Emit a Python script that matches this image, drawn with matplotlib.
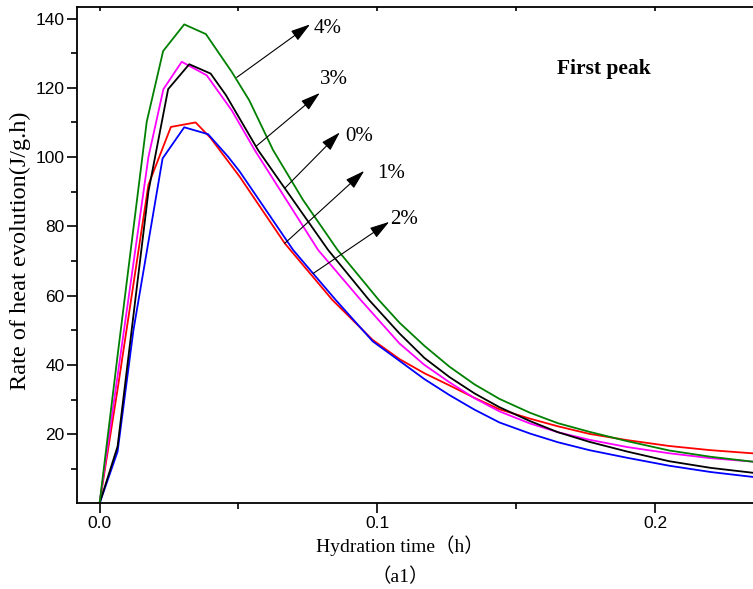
import matplotlib
matplotlib.use("Agg")
import matplotlib.pyplot as plt
from matplotlib.ticker import MultipleLocator

# hydration heat flow curves, first peak, for 0-4 % admixture
t_0 = [0, 0.0065, 0.0176, 0.0247, 0.0323, 0.040, 0.0455, 0.0571, 0.0667, 0.0823, 0.097,
       0.108, 0.117, 0.126, 0.135, 0.144, 0.155, 0.165, 0.1764, 0.19, 0.2052, 0.22, 0.235]
q_0 = [0, 16.5, 90, 119.6, 126.8, 124.1, 117.9, 102.0, 91.0, 73.2, 58.8,
       49.1, 42.0, 36.5, 31.8, 27.8, 23.8, 20.6, 17.8, 15.0, 12.2, 10.3, 8.9]

t_1 = [0, 0.0067, 0.0176, 0.0257, 0.0346, 0.040, 0.0505, 0.0667, 0.0838, 0.0984,
       0.108, 0.117, 0.126, 0.135, 0.144, 0.155, 0.165, 0.1764, 0.19, 0.2052, 0.22, 0.235]
q_1 = [0, 34, 92, 108.7, 110.0, 105.5, 94.3, 75.1, 58.8, 47.2,
       41.7, 37.6, 34.1, 30.5, 27.2, 24.5, 22.3, 20.1, 18.3, 16.6, 15.4, 14.5]

t_2 = [0, 0.0065, 0.0122, 0.0227, 0.0305, 0.0391, 0.0463, 0.0505, 0.0697, 0.0769, 0.085,
       0.0984, 0.108, 0.117, 0.126, 0.135, 0.144, 0.155, 0.165, 0.1764, 0.19, 0.2052, 0.22, 0.235]
q_2 = [0, 15, 50, 99.6, 108.6, 106.6, 100.1, 95.8, 73.2, 66.4, 58.8,
       46.8, 41.2, 35.9, 31.3, 27.1, 23.4, 20.2, 17.7, 15.4, 13.2, 10.9, 9.1, 7.7]

t_3 = [0, 0.0067, 0.0176, 0.023, 0.0296, 0.0386, 0.0476, 0.0559, 0.0787, 0.094,
       0.108, 0.117, 0.126, 0.135, 0.144, 0.155, 0.165, 0.1764, 0.19, 0.2052, 0.22, 0.235]
q_3 = [0, 38, 100, 119.6, 127.5, 123.6, 113.5, 102.0, 73.2, 58.8,
       46.2, 40.0, 35.0, 30.4, 26.6, 23.1, 20.6, 18.4, 16.3, 14.5, 13.1, 12.1]

t_4 = [0, 0.0067, 0.017, 0.0229, 0.0305, 0.0383, 0.0476, 0.0539, 0.0625, 0.0733, 0.0857,
       0.1005, 0.108, 0.117, 0.126, 0.135, 0.144, 0.155, 0.165, 0.1764, 0.19, 0.2052, 0.22, 0.235]
q_4 = [0, 44, 110.2, 130.6, 138.3, 135.5, 124.6, 116.4, 102.0, 87.6, 73.2,
       58.8, 52.2, 45.5, 39.5, 34.4, 30.2, 26.2, 23.2, 20.7, 18.0, 15.3, 13.5, 12.1]

labels = ['4%', '3%', '0%', '1%', '2%']
# arrow tail on the curve, arrow tip, text anchor
arrow_tail = [(0.0494, 123.0), (0.0565, 103.2), (0.0667, 91.0), (0.0667, 75.1), (0.0769, 66.4)]
arrow_tip = [(0.0758, 138.3), (0.0793, 118.5), (0.0865, 107.1), (0.0953, 96.0), (0.1043, 81.3)]
text_pos = [(0.0772, 137.0), (0.0794, 122.4), (0.0884, 106.0), (0.0998, 95.3), (0.1048, 82.1)]

serif = ['Liberation Serif', 'Noto Sans CJK SC']

fig = plt.figure(figsize=(7.53, 5.89), dpi=100)
ax = fig.add_axes([0.1023, 0.146, 0.8977, 0.842])

ax.plot(t_1, q_1, color='#ff0000', lw=1.3)
ax.plot(t_2, q_2, color='#0000ff', lw=1.3)
ax.plot(t_3, q_3, color='#ff00ff', lw=1.3)
ax.plot(t_0, q_0, color='black', lw=1.3)
ax.plot(t_4, q_4, color='#008000', lw=1.3)

for lab, tail, tip, pos in zip(labels, arrow_tail, arrow_tip, text_pos):
    ax.annotate('', xy=tip, xytext=tail,
                arrowprops=dict(arrowstyle='-|>,head_length=1.0,head_width=0.3',
                                color='black', lw=0.8, mutation_scale=12,
                                shrinkA=0, shrinkB=0))
    ax.text(pos[0], pos[1], lab, family=serif, fontsize=15, va='center', ha='left')

ax.text(0.1817, 125.4, 'First peak', family=serif, fontsize=15.5, fontweight='bold',
        ha='center', va='center')

ax.set_xlim(-0.0081, 0.2353)
ax.set_ylim(0.15, 143.3)
ax.xaxis.set_minor_locator(MultipleLocator(0.05))
ax.yaxis.set_minor_locator(MultipleLocator(10))
ax.set_xticks([0, 0.1, 0.2])
ax.set_xticklabels(['0.0', '0.1', '0.2'])
ax.set_yticks([20, 40, 60, 80, 100, 120, 140])

ax.tick_params(which='major', direction='out', length=7, width=1.2, labelsize=12.5, pad=2)
ax.tick_params(which='minor', direction='out', length=4, width=1.2)
ax.tick_params(axis='x', which='both', top=True, labeltop=False)
for lbl in ax.get_xticklabels() + ax.get_yticklabels():
    lbl.set_family(['Liberation Sans'])
for tk in ax.xaxis.get_major_ticks() + ax.xaxis.get_minor_ticks():
    tk.tick2line.set_marker(3)
    tk.tick2line.set_markersize(3)
for s in ['left', 'bottom', 'top']:
    ax.spines[s].set_linewidth(1.3)
ax.spines['right'].set_visible(False)

fig.text(0.027, 0.574, 'Rate of heat evolution(J/g.h)', family=serif, fontsize=17.5,
         rotation=90, ha='center', va='center')
fig.text(0.531, 0.074, 'Hydration time（h）', family=serif, fontsize=14,
         ha='center', va='center')
fig.text(0.531, 0.020, '（a1）', family=serif, fontsize=14, ha='center', va='center')

fig.savefig('out.png', dpi=100)
